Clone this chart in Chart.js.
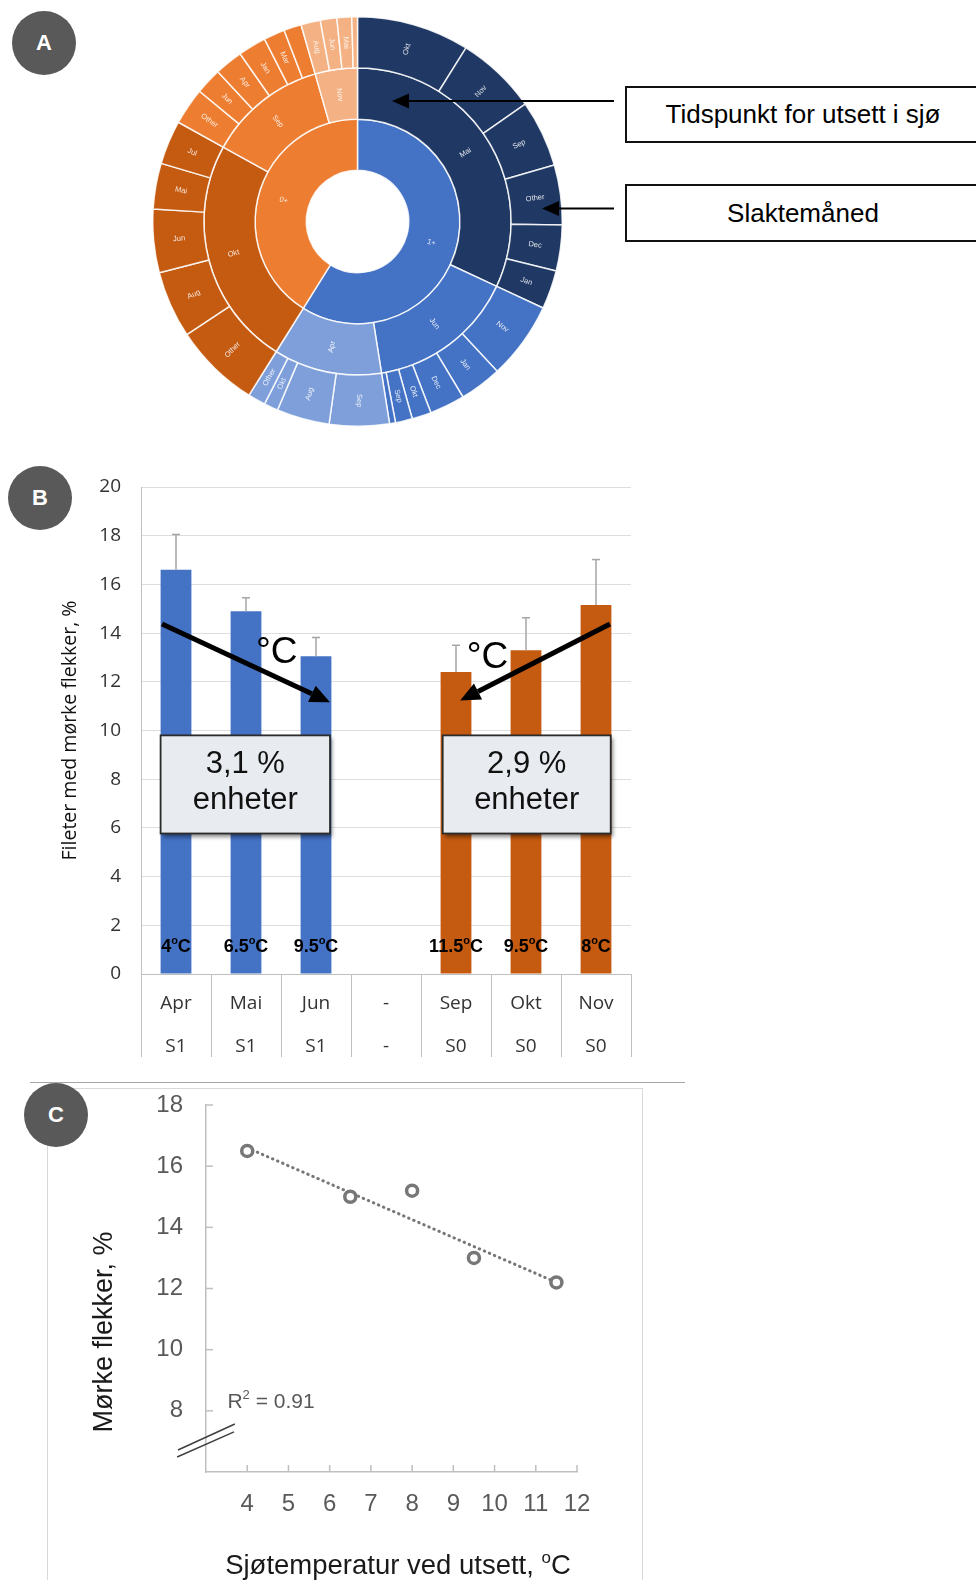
<!DOCTYPE html>
<html lang="no">
<head>
<meta charset="UTF-8">
<title>Mørke flekker – utsett og slaktemåned</title>
<script src="https://cdn.jsdelivr.net/npm/chart.js"></script>
<style>
  body {
    margin: 0;
    width: 976px;
    height: 1580px;
    position: relative;
    overflow: hidden;
    background: #fff;
    font-family: 'Liberation Sans', Arial, sans-serif;
  }
  canvas { position: absolute; }
  .badge {
    position: absolute;
    width: 64px;
    height: 64px;
    border-radius: 50%;
    background: #595959;
    color: #fff;
    font: bold 22px 'Liberation Sans', Arial, sans-serif;
    display: flex;
    align-items: center;
    justify-content: center;
  }
  .callout {
    position: absolute;
    left: 625px;
    width: 356px;
    box-sizing: border-box;
    border: 2px solid #111;
    background: #fff;
    font: 26px 'Liberation Sans', Arial, sans-serif;
    color: #000;
    display: flex;
    align-items: center;
    justify-content: center;
  }
  .rule { position: absolute; }
</style>
</head>
<body>

<!-- A -->
<canvas id="sunburst" width="411" height="411" style="left:152px;top:16px"></canvas>
<svg class="rule" style="left:0;top:0" width="976" height="300">
  <line x1="614" y1="101" x2="406" y2="101" stroke="#000" stroke-width="2.2"/>
  <polygon points="392,101 409,93.5 409,108.5" fill="#000"/>
  <line x1="614" y1="208.5" x2="556" y2="208.5" stroke="#000" stroke-width="2.2"/>
  <polygon points="542,208.5 559,201 559,216" fill="#000"/>
</svg>
<div class="callout" style="top:86px;height:57px">Tidspunkt for utsett i sjø</div>
<div class="callout" style="top:184px;height:58px">Slaktemåned</div>

<!-- B -->
<canvas id="bars" width="660" height="610" style="left:0;top:460px"></canvas>

<!-- C -->
<div class="rule" style="left:30px;top:1082px;width:655px;border-top:1px solid #a6a6a6"></div>
<div class="rule" style="left:47px;top:1088px;width:594px;height:520px;border:1px solid #d9d9d9"></div>
<canvas id="scatter" width="620" height="495" style="left:40px;top:1085px"></canvas>

<div class="badge" style="left:12px;top:11px">A</div>
<div class="badge" style="left:8px;top:466px">B</div>
<div class="badge" style="left:24px;top:1083px">C</div>

<script>
// ---- A: sunburst (inner = smolt type, middle = month put to sea, outer = slaughter month)
const aInnerLabels = ['1+', '0+'];
const aInnerShare = [212, 148];
const aMidLabels = ['Mai', 'Jun', 'Apr', 'Okt', 'Sep', 'Nov'];
const aMidShare = [115, 56, 41, 87, 45, 16];
const aOuterLabels = ['Okt', 'Nov', 'Sep', 'Other', 'Dec', 'Jan',
                      'Nov', 'Jan', 'Dec', 'Okt', 'Sep', '',
                      'Sep', 'Aug', 'Okt', 'Other',
                      'Other', 'Aug', 'Jun', 'Mai', 'Jul',
                      'Other', 'Jun', 'Apr', 'Jan', 'Mar', '',
                      'Aug', 'Jun', 'Mai', ''];
const aOuterShare = [32, 23, 19, 17, 13, 11,
                     22, 12, 10, 5.5, 4.8, 1.7,
                     17, 15, 4, 5,
                     24.5, 19, 18, 13, 12.5,
                     10.5, 7.5, 8, 8, 6, 5,
                     5.5, 4.7, 4.2, 1.6];
const aOuterParent = [0, 0, 0, 0, 0, 0, 1, 1, 1, 1, 1, 1, 2, 2, 2, 2,
                      3, 3, 3, 3, 3, 4, 4, 4, 4, 4, 4, 5, 5, 5, 5];

// ---- B: share of fillets with dark spots per month put to sea
const bMonths = ['Apr', 'Mai', 'Jun', '-', 'Sep', 'Okt', 'Nov'];
const bSmolt = ['S1', 'S1', 'S1', '-', 'S0', 'S0', 'S0'];
const bSpots = [16.6, 14.9, 13.05, null, 12.4, 13.3, 15.15];
const bErrPlus = [1.45, 0.55, 0.77, null, 1.1, 1.33, 1.87];
const bTemps = ['4', '6.5', '9.5', '', '11.5', '9.5', '8'];

// ---- C: dark spots vs sea temperature at transfer
const cTemp = [4, 6.5, 8, 9.5, 11.5];
const cSpots = [16.5, 15.0, 15.2, 13.0, 12.2];
const cTrendTemp = [4, 11.5];
const cTrendSpots = [16.6, 12.2];

const midColors = ['#203864', '#4472c4', '#7f9fda', '#c55a11', '#ed7d31', '#f4b183'];
const SANS = "'Liberation Sans', Arial, sans-serif";

function line(ctx, x0, y0, x1, y1) {
  ctx.beginPath(); ctx.moveTo(x0, y0); ctx.lineTo(x1, y1); ctx.stroke();
}

// text with superscript pieces, y = vertical centre of capitals
function supText(ctx, parts, x, yc, size, weight, family, align, color) {
  const fN = `${weight} ${size}px ${family}`;
  const fS = `${weight} ${Math.round(size * 0.62)}px ${family}`;
  let w = 0;
  parts.forEach(p => { ctx.font = p[1] ? fS : fN; w += ctx.measureText(p[0]).width; });
  let cx = align === 'center' ? x - w / 2 : x;
  const base = yc + size * 0.36;
  ctx.textAlign = 'left';
  ctx.textBaseline = 'alphabetic';
  ctx.fillStyle = color;
  parts.forEach(p => {
    ctx.font = p[1] ? fS : fN;
    ctx.fillText(p[0], cx, p[1] ? base - size * 0.4 : base);
    cx += ctx.measureText(p[0]).width;
  });
}

function drawArrow(ctx, x0, y0, x1, y1, lw, hl, hw) {
  const a = Math.atan2(y1 - y0, x1 - x0);
  const bx = x1 - hl * Math.cos(a), by = y1 - hl * Math.sin(a);
  ctx.strokeStyle = '#000'; ctx.fillStyle = '#000'; ctx.lineWidth = lw;
  line(ctx, x0, y0, bx, by);
  ctx.beginPath();
  ctx.moveTo(x1, y1);
  ctx.lineTo(bx + hw * Math.sin(a), by - hw * Math.cos(a));
  ctx.lineTo(bx - hw * Math.sin(a), by + hw * Math.cos(a));
  ctx.closePath(); ctx.fill();
}

// slice labels written along the radius
const sliceLabels = {
  id: 'sliceLabels',
  afterDatasetsDraw(chart) {
    const ctx = chart.ctx;
    ctx.save();
    ctx.font = '7.5px ' + SANS;
    ctx.fillStyle = 'rgba(255,255,255,0.85)';
    ctx.textAlign = 'center';
    ctx.textBaseline = 'middle';
    chart.data.datasets.forEach((ds, di) => {
      chart.getDatasetMeta(di).data.forEach((arc, i) => {
        const txt = ds.sliceLabels[i];
        if (!txt) return;
        const a = (arc.startAngle + arc.endAngle) / 2;
        const r = (arc.innerRadius + arc.outerRadius) / 2;
        ctx.save();
        ctx.translate(arc.x + Math.cos(a) * r, arc.y + Math.sin(a) * r);
        ctx.rotate(Math.cos(a) >= 0 ? a : a + Math.PI);
        ctx.fillText(txt, 0, 0);
        ctx.restore();
      });
    });
    ctx.restore();
  }
};

new Chart(document.getElementById('sunburst'), {
  type: 'doughnut',
  data: {
    datasets: [
      { data: aOuterShare, sliceLabels: aOuterLabels,
        backgroundColor: aOuterParent.map(p => midColors[p]) },
      { data: aMidShare, sliceLabels: aMidLabels, backgroundColor: midColors },
      { data: aInnerShare, sliceLabels: aInnerLabels, backgroundColor: ['#4472c4', '#ed7d31'] }
    ]
  },
  options: {
    responsive: false,
    animation: false,
    cutout: '25%',
    borderColor: 'rgba(255,255,255,0.85)',
    borderWidth: 1.5,
    hoverOffset: 0,
    layout: { padding: 0 },
    plugins: { legend: { display: false }, tooltip: { enabled: false } }
  },
  plugins: [sliceLabels]
});

// ---- B annotations: error bars, temperatures, arrows, boxes
const annotB = {
  id: 'annotB',
  afterDatasetsDraw(chart) {
    const { ctx, scales: { x, y } } = chart;
    const px = v => x.getPixelForValue(v);
    const py = v => y.getPixelForValue(v);
    ctx.save();
    ctx.strokeStyle = '#a6a6a6';
    ctx.lineWidth = 1.5;
    bSpots.forEach((v, i) => {
      if (v == null) return;
      const cx = px(i), y1 = py(v + bErrPlus[i]);
      line(ctx, cx, py(v), cx, y1);
      line(ctx, cx - 4, y1, cx + 4, y1);
    });
    bTemps.forEach((t, i) => {
      if (!t) return;
      supText(ctx, [[t, 0], ['o', 1], ['C', 0]], px(i), py(1.19), 18, 'bold', SANS, 'center', '#000');
    });

    drawArrow(ctx, px(-0.2), py(14.37), px(2.2), py(11.16), 5, 20, 9);
    drawArrow(ctx, px(6.2), py(14.37), px(4.06), py(11.23), 5, 20, 9);

    ctx.fillStyle = '#000';
    ctx.font = '37px ' + SANS;
    ctx.textAlign = 'center';
    ctx.textBaseline = 'middle';
    ctx.fillText('°C', px(1.44), py(13.2));
    ctx.fillText('°C', px(4.45), py(13.0));

    const box = (i0, i1, l1, l2) => {
      const x0 = px(i0), x1 = px(i1), y0 = py(9.8), y1 = py(5.77);
      ctx.save();
      ctx.shadowColor = 'rgba(0,0,0,0.45)';
      ctx.shadowOffsetX = 2; ctx.shadowOffsetY = 3; ctx.shadowBlur = 4;
      ctx.fillStyle = '#e8ecf0';
      ctx.fillRect(x0, y0, x1 - x0, y1 - y0);
      ctx.restore();
      ctx.strokeStyle = '#2b2b2b'; ctx.lineWidth = 1.8;
      ctx.strokeRect(x0, y0, x1 - x0, y1 - y0);
      ctx.fillStyle = '#111';
      ctx.font = '31px ' + SANS;
      ctx.textAlign = 'center';
      ctx.textBaseline = 'middle';
      ctx.fillText(l1, (x0 + x1) / 2, py(8.6));
      ctx.fillText(l2, (x0 + x1) / 2, py(7.12));
    };
    box(-0.22, 2.2, '3,1 %', 'enheter');
    box(3.81, 6.21, '2,9 %', 'enheter');
    ctx.restore();
  }
};

new Chart(document.getElementById('bars'), {
  type: 'bar',
  data: {
    labels: bMonths.map((m, i) => [m, bSmolt[i]]),
    datasets: [{
      data: bSpots,
      backgroundColor: bSmolt.map(s => s === 'S1' ? '#4472c4' : '#c55a11'),
      barPercentage: 0.44,
      categoryPercentage: 1
    }]
  },
  options: {
    responsive: false,
    animation: false,
    layout: { padding: { left: 0, top: 27, right: 29, bottom: 11 } },
    plugins: { legend: { display: false }, tooltip: { enabled: false } },
    scales: {
      x: {
        afterFit: s => { s.height = 85; },
        grid: { drawOnChartArea: false, drawTicks: true, tickLength: 83, color: '#bfbfbf', offset: true },
        border: { color: '#bfbfbf' },
        ticks: {
          padding: -74.5,
          autoSkip: false,
          maxRotation: 0,
          color: '#333',
          font: { family: "'Open Sans', sans-serif", size: 19, lineHeight: 2.263 }
        }
      },
      y: {
        min: 0, max: 20,
        afterFit: s => { s.width = 141; },
        grid: { color: '#dedede', drawTicks: true, tickLength: 20, tickColor: 'rgba(0,0,0,0)' },
        border: { color: '#bfbfbf' },
        ticks: {
          stepSize: 2, padding: 0, color: '#333',
          font: { family: "'Open Sans', sans-serif", size: 19 }
        },
        title: {
          display: true,
          text: 'Fileter med mørke flekker, %',
          color: '#111',
          padding: { top: 59, bottom: 0 },
          font: { family: "'Open Sans', sans-serif", size: 19.5 }
        }
      }
    }
  },
  plugins: [annotB]
});

// ---- C annotations: inward ticks, axis break, R², axis titles
const annotC = {
  id: 'annotC',
  afterDraw(chart) {
    const { ctx, chartArea: a, scales: { x, y } } = chart;
    ctx.save();
    ctx.strokeStyle = '#bfbfbf';
    ctx.lineWidth = 1.5;
    x.ticks.forEach(t => {
      if (t.value === 3) return;
      const p = x.getPixelForValue(t.value);
      line(ctx, p, a.bottom, p, a.bottom - 7);
    });
    y.ticks.forEach(t => {
      if (t.value === 6) return;
      const p = y.getPixelForValue(t.value);
      line(ctx, a.left, p, a.left + 7, p);
    });

    ctx.strokeStyle = '#404040';
    ctx.lineWidth = 1.5;
    line(ctx, x.getPixelForValue(2.32), y.getPixelForValue(6.72), x.getPixelForValue(3.70), y.getPixelForValue(7.57));
    line(ctx, x.getPixelForValue(2.30), y.getPixelForValue(6.49), x.getPixelForValue(3.68), y.getPixelForValue(7.31));

    supText(ctx, [['R', 0], ['2', 1], [' = 0.91', 0]], x.getPixelForValue(3.52), y.getPixelForValue(8.35),
      21, 'normal', SANS, 'left', '#595959');

    ctx.save();
    ctx.translate(a.left - 101, a.top + 227);
    ctx.rotate(-Math.PI / 2);
    ctx.font = '27px ' + SANS;
    ctx.fillStyle = '#1a1a1a';
    ctx.textAlign = 'center';
    ctx.textBaseline = 'middle';
    ctx.fillText('Mørke flekker, %', 0, 0);
    ctx.restore();

    supText(ctx, [['Sjøtemperatur ved utsett, ', 0], ['o', 1], ['C', 0]],
      (a.left + a.right) / 2 + 6.5, a.bottom + 92, 27.5, 'normal', SANS, 'center', '#1a1a1a');
    ctx.restore();
  }
};

const narrow = "'Liberation Sans Narrow', 'Liberation Sans', Arial, sans-serif";

new Chart(document.getElementById('scatter'), {
  type: 'scatter',
  data: {
    datasets: [
      {
        data: cTemp.map((t, i) => ({ x: t, y: cSpots[i] })),
        pointRadius: 5.5,
        pointBorderWidth: 3.5,
        borderColor: '#777',
        backgroundColor: '#fff',
        order: 0
      },
      {
        type: 'line',
        data: cTrendTemp.map((t, i) => ({ x: t, y: cTrendSpots[i] })),
        borderColor: '#777',
        borderWidth: 3,
        borderDash: [0.5, 5],
        borderCapStyle: 'round',
        pointRadius: 0,
        order: 1
      }
    ]
  },
  options: {
    responsive: false,
    animation: false,
    layout: { padding: { left: 0, top: 20, right: 83, bottom: 8 } },
    plugins: { legend: { display: false }, tooltip: { enabled: false } },
    scales: {
      x: {
        type: 'linear', min: 3, max: 12,
        afterFit: s => { s.height = 100; },
        grid: { display: false, drawTicks: false },
        border: { color: '#bfbfbf', width: 1.5 },
        ticks: {
          stepSize: 1, padding: 17.6, color: '#595959',
          font: { family: narrow, size: 24 },
          callback: v => v === 3 ? '' : v
        }
      },
      y: {
        min: 6, max: 18,
        afterFit: s => { s.width = 166; },
        grid: { display: false, drawTicks: true, tickLength: 23 },
        border: { color: '#bfbfbf', width: 1.5 },
        ticks: {
          stepSize: 2, padding: 0, color: '#595959',
          font: { family: narrow, size: 24 },
          callback: v => v === 6 ? '' : v
        }
      }
    }
  },
  plugins: [annotC]
});
</script>
</body>
</html>
